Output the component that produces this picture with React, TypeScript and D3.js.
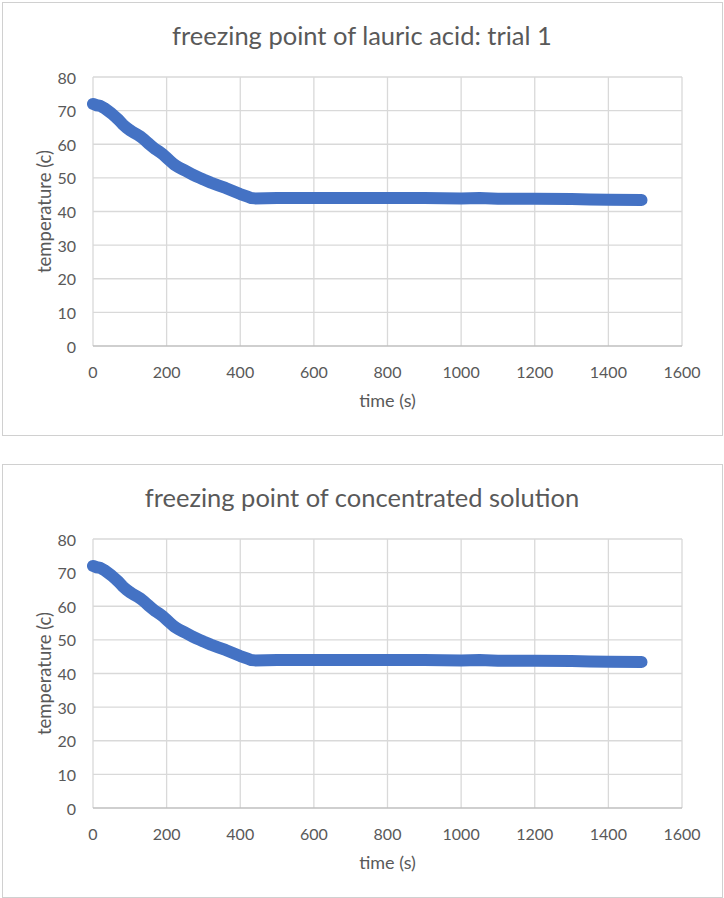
import React from "react";
import * as d3 from "d3";

// time (s) and temperature (c)
const trialTimes = [0, 10, 20, 30, 40, 50, 60, 70, 80, 90, 100, 110, 120, 130, 140, 150, 160, 170, 180, 190, 200, 210, 220, 230, 240, 250, 260, 270, 280, 290, 300, 320, 340, 360, 380, 400, 420, 430, 440, 500, 600, 700, 800, 900, 1000, 1050, 1100, 1200, 1300, 1350, 1400, 1490];
const trialTemps = [72, 71.6, 71.4, 70.8, 70.0, 69.2, 68.2, 67.2, 66.0, 65.0, 64.2, 63.5, 62.9, 62.2, 61.3, 60.3, 59.4, 58.5, 57.8, 57.0, 56.0, 55.0, 54.0, 53.3, 52.7, 52.2, 51.6, 51.0, 50.5, 50.0, 49.5, 48.6, 47.8, 47.0, 46.1, 45.2, 44.4, 44.0, 43.9, 44.0, 44.0, 44.0, 44.0, 44.0, 43.9, 44.0, 43.8, 43.8, 43.7, 43.6, 43.5, 43.4];

const concTimes = [0, 10, 20, 30, 40, 50, 60, 70, 80, 90, 100, 110, 120, 130, 140, 150, 160, 170, 180, 190, 200, 210, 220, 230, 240, 250, 260, 270, 280, 290, 300, 320, 340, 360, 380, 400, 420, 430, 440, 500, 600, 700, 800, 900, 1000, 1050, 1100, 1200, 1300, 1350, 1400, 1490];
const concTemps = [72, 71.6, 71.4, 70.8, 70.0, 69.2, 68.2, 67.2, 66.0, 65.0, 64.2, 63.5, 62.9, 62.2, 61.3, 60.3, 59.4, 58.5, 57.8, 57.0, 56.0, 55.0, 54.0, 53.3, 52.7, 52.2, 51.6, 51.0, 50.5, 50.0, 49.5, 48.6, 47.8, 47.0, 46.1, 45.2, 44.4, 44.0, 43.9, 44.0, 44.0, 44.0, 44.0, 44.0, 43.9, 44.0, 43.8, 43.8, 43.7, 43.6, 43.5, 43.4];

const xTicks = [0, 200, 400, 600, 800, 1000, 1200, 1400, 1600];
const yTicks = [0, 10, 20, 30, 40, 50, 60, 70, 80];

const W = 724;
const FONT = "Lato, 'Open Sans', sans-serif";
const TEXT = "#595959";

type ChartProps = {
    top: number;
    title: string;
    times: number[];
    temps: number[];
};

/** one Excel-style scatter chart in its box */
function Chart({ top, title, times, temps }: ChartProps) {
    const plot = { left: 93, right: 682, top: top + 75, bottom: top + 344 };
    const x = d3.scaleLinear().domain([0, 1600]).range([plot.left, plot.right]);
    const y = d3.scaleLinear().domain([0, 80]).range([plot.bottom, plot.top]);

    const points = times.map((t, i) => [t, temps[i]] as [number, number]);
    const line = d3.line<[number, number]>()
        .x(d => x(d[0]))
        .y(d => y(d[1]));

    return <g>
        <rect x={2.5} y={top + 0.5} width={720} height={433} fill="#fff" stroke="#d0d0d0" />
        <text x={W / 2} y={top + 33} textAnchor="middle" dominantBaseline="central"
            fontFamily={FONT} fontSize={25.5} fill={TEXT}>{title}</text>

        {/* grid */}
        {yTicks.filter(v => v > 0).map(v =>
            <line key={"gy" + v} x1={plot.left} x2={plot.right} y1={y(v)} y2={y(v)} stroke="#d9d9d9" strokeWidth={1.3} />
        )}
        {xTicks.map(v =>
            <line key={"gx" + v} x1={x(v)} x2={x(v)} y1={plot.top} y2={plot.bottom} stroke="#d9d9d9" strokeWidth={1.3} />
        )}
        <line x1={plot.left} x2={plot.right} y1={y(0)} y2={y(0)} stroke="#bfbfbf" strokeWidth={1.3} />

        {/* tick labels */}
        {yTicks.map(v =>
            <text key={"ty" + v} x={plot.left - 17} y={y(v)} textAnchor="end" dominantBaseline="central"
                fontFamily={FONT} fontSize={16} fill={TEXT}>{v}</text>
        )}
        {xTicks.map(v =>
            <text key={"tx" + v} x={x(v)} y={plot.bottom + 25} textAnchor="middle" dominantBaseline="central"
                fontFamily={FONT} fontSize={16} fill={TEXT}>{v}</text>
        )}

        {/* axis titles */}
        <text x={(plot.left + plot.right) / 2} y={plot.bottom + 54} textAnchor="middle" dominantBaseline="central"
            fontFamily={FONT} fontSize={18} fill={TEXT}>time (s)</text>
        <text transform={`translate(44, ${(plot.top + plot.bottom) / 2}) rotate(-90)`} textAnchor="middle"
            dominantBaseline="central" fontFamily={FONT} fontSize={18.5} fill={TEXT}>temperature (c)</text>

        {/* data: dense markers drawn as a thick round line */}
        <path d={line(points) || ""} fill="none" stroke="#4472C4" strokeWidth={12}
            strokeLinecap="round" strokeLinejoin="round" />
    </g>;
}

export default function App() {
    return <svg width={W} height={898} style={{ position: "absolute", left: 0, top: 0, background: "#fff" }}>
        <Chart top={2} title="freezing point of lauric acid: trial 1" times={trialTimes} temps={trialTemps} />
        <Chart top={464} title="freezing point of concentrated solution" times={concTimes} temps={concTemps} />
    </svg>;
}
